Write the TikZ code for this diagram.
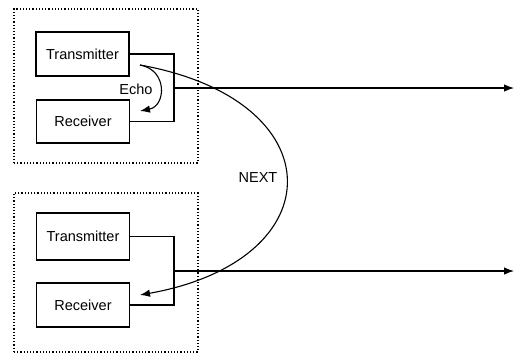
\documentclass[tikz,border=0pt]{standalone}
\usepackage{fontspec}
\setmainfont{Liberation Sans}
\usetikzlibrary{arrows.meta}
\begin{document}
\begin{tikzpicture}[x=1pt,y=-1pt,
        unit/.style={draw,line width=1.2pt,rectangle,minimum width=93pt,
            minimum height=44pt,inner sep=0pt,font=\fontsize{14.5}{16}\selectfont},
        frame/.style={draw,line width=1.2pt,dotted,rectangle,inner sep=0pt},
        wire/.style={line width=1.1pt},
        sig/.style={line width=1.1pt,-{Latex[length=10pt,width=7.5pt]}},
        lbl/.style={font=\fontsize{14.5}{16}\selectfont}]
        \useasboundingbox (0,0) rectangle (516,354);
        %% Upper transceiver
        \node[frame,minimum width=184pt,minimum height=154pt] (frameA) at (106,86) {};
        \node[unit] (txA) at (82.5,54) {Transmitter};
        \node[unit,minimum height=43pt] (rxA) at (83,121.5) {Receiver};
        \coordinate (jA) at (174,88);
        \coordinate (outA) at (514,88);
        \draw[wire] (txA.east) -| (jA) |- (rxA.east);
        \draw[sig] (jA) -- (outA);
        %% Lower transceiver
        \node[frame,minimum width=184pt,minimum height=159pt] (frameB) at (106,272.5) {};
        \node[unit,minimum height=47pt] (txB) at (83,236.5) {Transmitter};
        \node[unit] (rxB) at (83,305) {Receiver};
        \coordinate (jB) at (174,271);
        \coordinate (outB) at (514,271);
        \draw[wire] (txB.east) -| (jB) |- (rxB.east);
        \draw[sig] (jB) -- (outB);
        %% Echo and NEXT paths
        \coordinate (src) at (140,65);
        \coordinate (echoEnd) at (140,111);
        \coordinate (nextEnd) at (140,295);
        \draw[sig] (src) .. controls (168,70) and (166,106) .. (echoEnd);
        \node[lbl] (echo) at (136,89) {Echo};
        \draw[sig] (src) .. controls (335,100) and (335,260) .. (nextEnd);
        \node[lbl] (next) at (258,178) {NEXT};
    \end{tikzpicture}
\end{document}
